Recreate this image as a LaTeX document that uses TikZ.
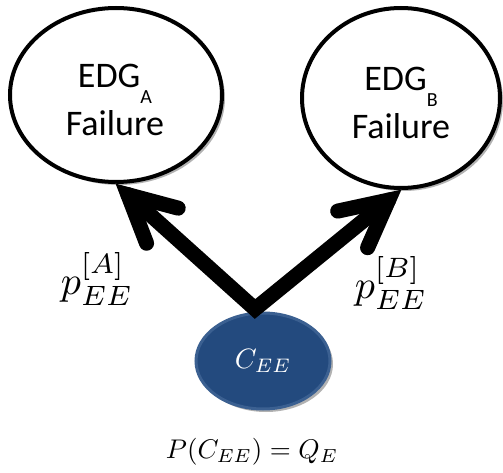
\documentclass[tikz,border=0pt]{standalone}
\usepackage{fontspec}
\setmainfont{Carlito}
\usetikzlibrary{calc,shadows,shapes.geometric}
\definecolor{ceblue}{HTML}{234A7E}
\definecolor{ceborder}{HTML}{3B6091}
\begin{document}
\begin{tikzpicture}[x=1pt,y=-1pt,
  event/.style={ellipse, draw=black, line width=4pt, fill=white, inner sep=0pt,
    drop shadow={shadow xshift=3pt, shadow yshift=-3pt, opacity=0.3, fill=black}},
  cause/.style={ellipse, draw=ceborder, line width=3pt, fill=ceblue, inner sep=0pt,
    minimum width=134pt, minimum height=96pt, text=white,
    drop shadow={shadow xshift=3pt, shadow yshift=-3pt, opacity=0.3, fill=black}},
  evtext/.style={align=center, font=\fontsize{36}{48}\selectfont, inner sep=0pt},
  arrowline/.style={line width=15pt, line cap=round, line join=miter, draw=black},
  arrowshadow/.style={line width=15pt, line cap=round, line join=miter, draw=black!20},
  problabel/.style={inner sep=0pt},
]
\useasboundingbox (0,0) rectangle (503,473);

% nodes
\node[event, minimum width=212pt, minimum height=174pt] (a) at (116,95) {};
\node[event, minimum width=198pt, minimum height=180pt] (b) at (401,98) {};
\node[evtext] (ta) at (115,100) {EDG\raisebox{-16pt}{\fontsize{20}{20}\selectfont A}\\Failure};
\node[evtext] (tb) at (401,103) {EDG\raisebox{-16pt}{\fontsize{20}{20}\selectfont B}\\Failure};

\coordinate (apex) at (255,309);
\coordinate (va) at ($(a.south)!16pt!(apex)$);
\coordinate (vb) at ($(b.south)!16pt!(apex)$);

% arrow shadows
\begin{scope}[shift={(3pt,-3pt)}]
  \draw[arrowshadow] (va) -- (apex) -- (vb);
  \draw[arrowshadow] ($(va)!52pt!27:(apex)$) -- (va) -- ($(va)!52pt!-27:(apex)$);
  \draw[arrowshadow] ($(vb)!52pt!27:(apex)$) -- (vb) -- ($(vb)!52pt!-27:(apex)$);
\end{scope}

\node[cause] (c) at (263,361) {\scalebox{2.8}{$C_{EE}$}};

% arrows
\draw[arrowline] (va) -- (apex) -- (vb);
\draw[arrowline] ($(va)!52pt!27:(apex)$) -- (va) -- ($(va)!52pt!-27:(apex)$);
\draw[arrowline] ($(vb)!52pt!27:(apex)$) -- (vb) -- ($(vb)!52pt!-27:(apex)$);

% labels
\node[problabel] (la) at (97,279) {\scalebox{4}{$p_{EE}^{[A]}$}};
\node[problabel] (lb) at (391,283) {\scalebox{4}{$p_{EE}^{[B]}$}};
\node[inner sep=0pt] (pq) at (252,452) {\scalebox{2.7}{$P(C_{EE})=Q_E$}};
\end{tikzpicture}
\end{document}
